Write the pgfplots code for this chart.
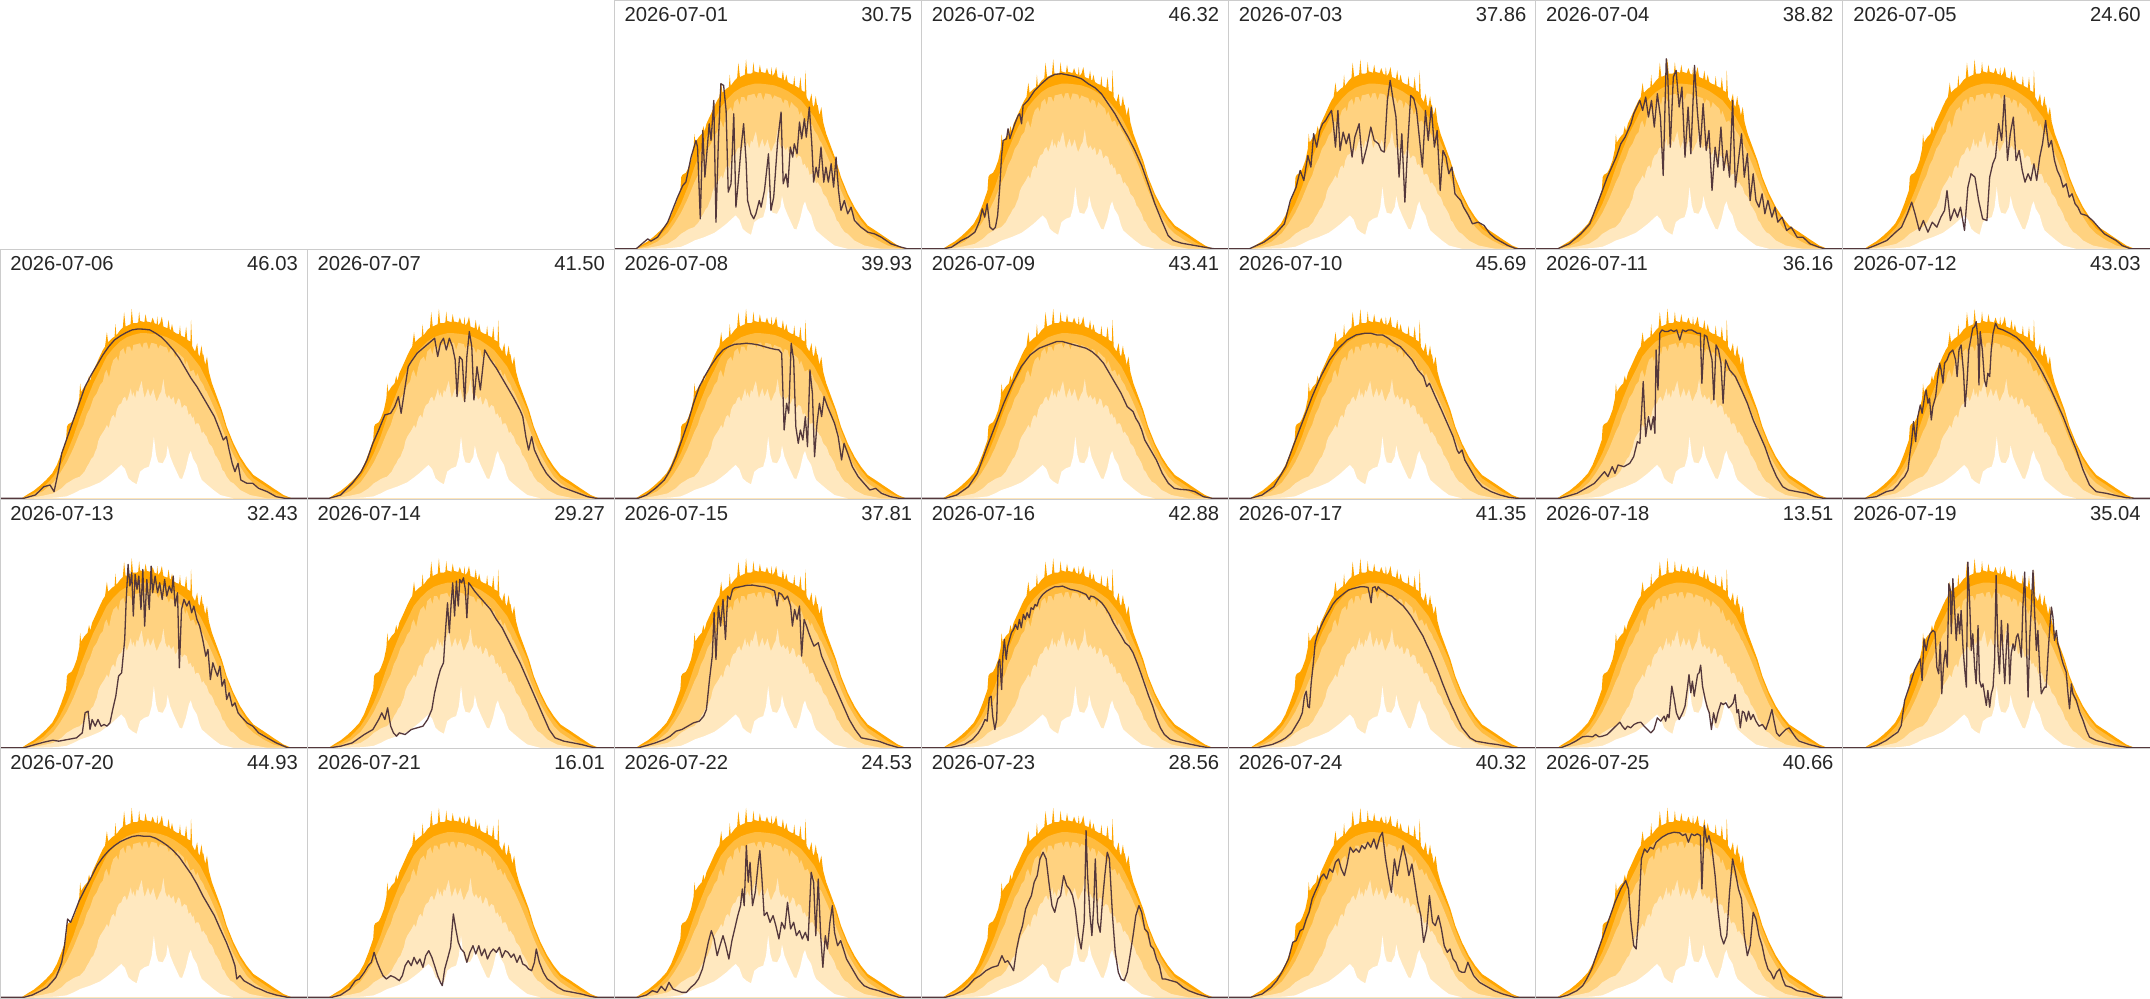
\documentclass[border=0pt]{standalone}
\usepackage{fontspec}
\setmainfont{Liberation Sans}
\usepackage{pgfplots}
\usepackage{pgfplotstable}
\pgfplotsset{compat=1.18}
\definecolor{oD}{HTML}{FFA500}
\definecolor{oC}{HTML}{FFBC40}
\definecolor{oB}{HTML}{FFD280}
\definecolor{oA}{HTML}{FFE8BF}
\definecolor{ln}{HTML}{54383C}
\definecolor{txt}{HTML}{262626}

% ---- shared percentile bands (same in every panel) ----
\pgfplotstableread[row sep=\\]{x y\\
0 0\\7 0\\9 12\\11 23\\13 38\\15 55\\17 75\\18.5 100\\20 135\\21.5 175\\21.8 215\\22.2 222\\23.3 228\\24 240\\25 265\\25.8 300\\26.1 345\\26.4 318\\26.6 322\\27.5 335\\28.5 345\\29 368\\29.4 352\\30 375\\31.5 405\\32.6 428\\33.5 445\\34.2 455\\34.8 498\\35.2 468\\35.4 470\\36.5 480\\37.3 485\\37.6 522\\37.9 487\\38 490\\39.2 505\\40 512\\40.4 558\\40.9 515\\42 520\\42.5 522\\42.9 568\\43.3 525\\44.5 525\\45 528\\45.3 560\\45.6 532\\47 528\\47.4 552\\47.8 530\\48 530\\49.2 527\\49.7 542\\50.3 525\\51 522\\51.2 545\\51.5 518\\52.2 527\\52.7 545\\53.2 515\\54.5 510\\54.9 535\\55.3 506\\55.6 505\\56 522\\56.5 500\\57.5 494\\58.3 492\\58.6 518\\58.9 488\\59 488\\60.2 482\\60.6 515\\61 475\\62 470\\62.2 535\\62.6 455\\63.5 440\\64.2 465\\64.6 432\\65 425\\65.6 458\\66 430\\66.2 432\\66.8 400\\67.4 425\\68 380\\69 345\\70.6 305\\72.2 265\\73.8 215\\76 165\\78.2 125\\80.3 95\\82.5 70\\85.8 50\\89 30\\92.3 10\\95 0\\100 0\\}\bfour
\pgfplotstableread[row sep=\\]{x y\\
0 0\\7.1 0\\10.9 15\\14.1 33\\17.4 65\\19.5 95\\21.7 135\\23.9 185\\26.1 245\\28.2 295\\30.4 345\\32.6 385\\34.7 425\\36.9 450\\39.1 470\\41.3 483\\43.4 490\\45.6 495\\47.8 495\\49.9 493\\52.1 490\\54.3 483\\56.5 473\\58.6 460\\60.8 445\\63.0 420\\65.1 395\\67.3 355\\69.5 310\\71.7 265\\73.8 205\\76.0 155\\78.2 115\\80.3 85\\82.5 60\\85.8 40\\89.0 20\\92.3 5\\95 0\\100 0\\}\bthree
\pgfplotstableread[row sep=\\]{x y\\
0 0\\7.1 0\\10.9 8\\14.1 22\\17.4 48\\19.5 75\\21.7 108\\23.9 150\\26.1 200\\27.2 220\\28.2 250\\29.3 270\\30.4 300\\31.5 315\\32.6 340\\33.5 350\\34.1 375\\34.7 385\\35.5 362\\36.2 395\\36.9 415\\38 425\\38.5 410\\39.1 440\\40.2 450\\40.8 430\\41.3 455\\42.3 455\\43 440\\43.4 460\\44.5 462\\45.6 465\\46.3 450\\46.8 466\\47.8 467\\48.5 445\\49.2 466\\49.9 465\\51 462\\51.5 448\\52.1 460\\53.2 455\\54.3 452\\55 435\\55.5 448\\56.5 443\\57 420\\57.6 440\\58.6 430\\59.8 420\\60.3 400\\60.8 413\\62 380\\63.0 385\\63.8 365\\64.3 375\\65.1 355\\66.2 340\\66.8 325\\67.3 320\\68.3 300\\69.5 275\\70.4 255\\71.7 225\\72.5 205\\73.8 175\\75 150\\76.0 130\\78.2 95\\80.3 65\\82.5 45\\85.8 25\\89.0 10\\92.3 2\\95 0\\100 0\\}\btwo
\pgfplotstableread[row sep=\\]{x y\\
0 0\\8 0\\10.9 3\\14 8\\17.4 15\\20 30\\21.7 45\\23 52\\24 58\\25 62\\26 65\\27 75\\27.5 80\\28.3 95\\29 105\\29.7 118\\30.4 125\\31 140\\31.5 150\\32 172\\32.6 185\\33.3 195\\34 205\\34.8 220\\35.4 210\\35.8 228\\36.4 245\\37 250\\37.5 240\\38 265\\38.7 280\\39.5 285\\40.1 300\\40.7 305\\41.3 290\\42 310\\42.6 330\\43 305\\43.4 318\\44 300\\44.5 325\\45 318\\45.5 335\\46.1 352\\46.7 318\\47.1 300\\47.5 312\\48.2 330\\48.9 305\\49.4 315\\49.9 328\\50.5 305\\51 290\\51.5 300\\52 312\\52.5 320\\53.2 358\\53.8 315\\54.4 300\\55 310\\55.7 295\\56.5 305\\57 280\\57.5 285\\58 300\\58.6 295\\59.2 270\\60 280\\60.8 275\\61.4 250\\62 255\\62.6 240\\63 245\\63.6 220\\64 225\\64.6 225\\65.1 215\\65.7 195\\66.2 200\\66.8 190\\67.3 185\\68 165\\68.5 160\\69 155\\69.5 145\\70 130\\70.5 125\\71.1 115\\71.7 105\\72.4 85\\73 80\\73.8 65\\75 50\\76 45\\78.2 25\\81.4 10\\86.9 0\\100 0\\}\bone
\pgfplotstableread[row sep=\\]{x y\\
0 0\\10 0\\18 2\\21.7 6\\24 15\\26.1 25\\29.3 35\\32.6 48\\34.7 62\\36.5 75\\38.5 92\\39.5 100\\40.7 88\\41.8 60\\43 50\\44.5 42\\45.6 80\\47 90\\48.5 95\\49.4 125\\50.1 185\\50.8 130\\51.5 108\\53 105\\54.1 125\\54.6 158\\55.4 125\\56.5 100\\57.5 80\\58.5 60\\59.3 58\\60.5 90\\61.5 130\\62.1 142\\62.8 120\\64.1 100\\65 70\\65.7 55\\67.3 42\\69.5 25\\71.7 10\\76 0\\100 0\\}\bzero

% ---- actual output, one table per day ----
\pgfplotstableread[row sep=\\]{x y\\
0 0\\7.1 0\\10.9 30\\11.9 23\\14.1 35\\17.4 80\\20.6 155\\22.3 190\\23.3 200\\25.0 275\\26.6 325\\27.1 305\\28.0 90\\28.8 355\\29.5 215\\30.9 375\\31.5 325\\32.4 445\\33.1 80\\33.9 325\\34.7 495\\35.6 490\\36.4 415\\37.1 170\\38.0 195\\38.9 405\\39.6 125\\40.4 205\\41.3 305\\42.1 375\\42.9 265\\43.4 145\\44.5 105\\45.4 90\\46.1 105\\47.2 145\\47.8 125\\48.9 175\\50.2 285\\51.0 115\\51.9 155\\53.2 325\\54.3 410\\55.0 195\\55.9 225\\56.5 185\\57.3 305\\58.1 275\\58.6 315\\59.5 285\\60.3 380\\61.0 330\\61.9 390\\62.5 335\\63.5 425\\64.3 315\\64.9 200\\65.7 245\\66.4 215\\67.3 305\\68.2 200\\68.9 245\\69.7 200\\70.6 255\\71.4 185\\72.2 275\\73.0 175\\73.8 115\\74.9 145\\76.0 105\\77.1 125\\78.2 85\\80.3 65\\82.5 50\\84.7 45\\86.9 35\\90.1 15\\93.4 5\\95.5 0\\100 0\\}\dayA
\pgfplotstableread[row sep=\\]{x y\\
0 0\\7.1 0\\9.8 5\\13.0 25\\15.2 35\\17.4 50\\19.0 85\\19.8 120\\20.6 95\\21.4 135\\22.3 65\\23.3 57\\24.1 65\\24.8 100\\25.5 185\\26.1 280\\26.6 325\\27.7 330\\28.2 360\\28.8 330\\29.3 345\\30.4 375\\31.5 400\\32.0 405\\32.6 375\\33.1 430\\34.7 445\\36.9 475\\39.1 495\\41.3 513\\43.4 523\\45.6 525\\47.8 521\\49.9 517\\52.1 510\\54.3 495\\56.5 483\\58.6 465\\60.8 435\\63.0 405\\65.1 370\\67.3 335\\69.5 295\\71.7 250\\73.8 195\\76.0 135\\78.2 85\\80.3 40\\82.0 25\\84.7 17\\89.0 10\\93.4 3\\95.5 0\\100 0\\}\dayB
\pgfplotstableread[row sep=\\]{x y\\
0 0\\6.7 0\\11.5 20\\15.3 45\\18.2 75\\20.1 145\\22.0 185\\23.3 235\\24.5 205\\25.8 280\\26.8 245\\27.7 345\\28.7 305\\29.7 355\\30.6 375\\31.6 385\\32.5 400\\33.5 415\\34.1 375\\34.8 305\\35.6 415\\36.3 295\\37.3 350\\38.3 315\\39.2 345\\40.2 275\\41.1 335\\42.5 375\\43.6 255\\45.0 305\\46.3 365\\47.4 325\\48.8 315\\49.7 295\\50.7 290\\51.7 445\\52.6 505\\53.6 445\\54.5 395\\55.5 215\\56.4 345\\57.4 140\\58.4 325\\59.3 460\\60.3 450\\61.2 415\\62.2 325\\63.1 245\\64.1 415\\65.0 325\\66.0 425\\67.0 305\\67.9 355\\68.9 175\\69.8 295\\70.8 275\\71.7 225\\72.7 245\\73.7 165\\74.6 155\\75.6 145\\76.5 125\\78.1 100\\79.4 75\\81.3 80\\83.2 70\\85.1 45\\87.0 30\\89.0 20\\90.9 10\\93.7 0\\100 0\\}\dayC
\pgfplotstableread[row sep=\\]{x y\\
0 0\\7.1 0\\10.9 15\\14.7 45\\17.6 75\\20.5 145\\23.3 215\\26.2 275\\27.7 315\\29.1 335\\31.0 375\\31.9 405\\32.9 425\\33.9 445\\34.8 415\\35.8 455\\36.7 395\\37.7 445\\38.6 365\\39.6 465\\40.6 395\\41.5 220\\42.5 570\\43.0 515\\43.8 305\\44.8 515\\45.7 535\\46.7 425\\47.6 485\\48.6 275\\49.6 425\\50.5 285\\51.7 550\\52.6 415\\53.6 305\\54.5 435\\55.5 295\\56.4 355\\57.4 175\\58.4 305\\59.3 245\\60.3 365\\61.2 235\\62.2 295\\63.1 215\\64.1 445\\65.0 185\\66.0 265\\67.0 345\\67.9 215\\68.9 285\\69.8 145\\70.8 225\\71.7 145\\72.7 125\\73.7 165\\74.6 105\\75.6 145\\76.9 95\\77.9 125\\78.8 80\\80.2 95\\81.7 55\\83.2 65\\85.1 35\\87.0 35\\89.3 15\\92.2 5\\94.1 0\\100 0\\}\dayD
\pgfplotstableread[row sep=\\]{x y\\
0 0\\7.7 0\\10.5 10\\14.3 25\\17.2 50\\19.1 65\\21.0 105\\22.4 140\\23.5 105\\24.9 55\\26.2 85\\27.7 50\\29.1 80\\30.6 65\\31.9 95\\33.1 115\\33.9 175\\35.0 85\\36.3 120\\37.3 95\\38.3 125\\39.6 55\\40.7 185\\41.7 225\\43.0 215\\44.2 145\\45.5 90\\46.9 85\\47.8 215\\48.8 255\\49.7 275\\50.7 375\\51.7 325\\52.6 460\\53.6 265\\54.5 345\\55.5 395\\56.4 265\\57.4 295\\58.4 235\\59.3 200\\60.3 225\\61.2 205\\62.2 255\\63.1 205\\64.1 275\\65.0 315\\66.0 385\\67.0 305\\67.9 325\\68.9 265\\69.8 235\\70.8 215\\71.7 185\\72.7 195\\73.7 155\\74.6 165\\75.6 135\\76.5 125\\77.5 105\\79.4 100\\81.3 85\\83.2 65\\85.1 45\\87.0 35\\89.0 25\\90.9 10\\93.7 0\\100 0\\}\dayE
\pgfplotstableread[row sep=\\]{x y\\
0 0\\7.7 0\\11.5 10\\14.3 35\\16.3 40\\17.6 20\\19.1 85\\20.1 135\\22.0 185\\23.9 235\\25.8 285\\27.7 335\\29.7 370\\31.6 400\\33.5 430\\35.4 455\\37.3 475\\39.2 487\\41.1 497\\43.0 505\\45.0 508\\46.9 507\\48.8 505\\50.7 495\\52.6 483\\54.5 465\\56.4 445\\58.4 420\\60.3 390\\62.2 360\\64.1 335\\66.0 305\\67.9 275\\69.8 245\\71.7 200\\72.7 175\\73.7 185\\74.6 145\\75.6 105\\76.5 80\\77.5 105\\78.4 55\\80.4 45\\82.3 45\\84.2 30\\87.0 20\\89.9 5\\92.8 0\\100 0\\}\dayF
\pgfplotstableread[row sep=\\]{x y\\
0 0\\7.1 0\\10.9 10\\14.7 45\\17.6 80\\19.5 115\\21.4 165\\23.3 205\\25.3 250\\27.2 255\\28.5 275\\29.7 305\\30.6 255\\31.9 335\\32.9 395\\33.9 410\\35.8 435\\37.7 450\\39.6 465\\41.5 480\\42.5 425\\43.4 465\\44.4 480\\45.3 445\\46.3 480\\47.3 455\\48.2 415\\48.8 305\\49.6 425\\50.5 415\\51.3 290\\52.0 425\\52.8 500\\53.6 455\\54.3 295\\55.3 395\\56.4 325\\57.8 445\\59.7 415\\61.6 390\\63.5 360\\65.4 330\\67.3 300\\69.3 265\\70.2 245\\71.2 185\\72.1 145\\73.1 185\\74.0 145\\76.0 105\\77.9 75\\79.8 55\\82.6 35\\85.5 25\\88.4 15\\91.3 5\\94.1 0\\100 0\\}\dayG
\pgfplotstableread[row sep=\\]{x y\\
0 0\\7.7 0\\10.5 10\\13.4 30\\16.3 55\\18.2 85\\20.1 125\\22.0 175\\23.9 225\\25.8 285\\27.7 335\\29.7 370\\31.6 400\\33.5 425\\35.4 445\\37.3 455\\39.2 462\\41.1 463\\43.0 465\\45.0 463\\46.9 460\\48.8 455\\50.7 450\\52.2 447\\53.6 445\\54.5 435\\55.3 205\\56.1 285\\56.8 255\\57.6 465\\58.4 415\\59.1 215\\59.9 165\\60.6 205\\61.4 175\\62.2 245\\62.9 155\\63.7 385\\64.5 315\\65.2 125\\66.0 225\\66.8 285\\67.5 245\\68.3 305\\69.4 275\\70.8 245\\71.7 225\\72.9 185\\74.0 115\\74.8 165\\76.0 135\\77.5 95\\79.4 65\\81.3 45\\83.2 25\\85.1 30\\87.0 15\\89.9 5\\92.8 0\\100 0\\}\dayH
\pgfplotstableread[row sep=\\]{x y\\
0 0\\7.7 0\\11.5 10\\15.3 35\\18.2 75\\21.0 145\\23.9 215\\26.8 285\\29.7 345\\32.5 395\\35.4 430\\38.3 450\\41.1 460\\44.0 470\\45.9 470\\47.8 465\\49.7 460\\51.7 455\\53.6 450\\55.5 440\\57.4 425\\59.3 405\\61.2 375\\63.1 345\\65.0 315\\67.0 275\\68.9 260\\69.8 240\\70.8 225\\71.7 205\\72.7 175\\74.6 145\\76.5 115\\78.4 75\\80.4 45\\82.3 30\\84.2 27\\87.0 25\\89.0 20\\91.8 5\\94.7 0\\100 0\\}\dayI
\pgfplotstableread[row sep=\\]{x y\\
0 0\\7.1 0\\10.9 10\\14.7 35\\18.6 95\\21.4 165\\24.3 235\\27.2 305\\30.0 365\\32.9 415\\35.8 450\\38.6 475\\41.5 490\\44.4 495\\46.3 495\\48.2 490\\50.1 490\\52.0 480\\54.0 465\\55.9 455\\57.8 435\\59.7 415\\61.6 385\\63.5 365\\64.5 335\\65.4 345\\67.3 305\\69.3 265\\71.2 225\\73.1 185\\74.4 145\\75.0 135\\76.0 145\\76.9 115\\78.8 85\\80.7 55\\82.6 35\\85.5 20\\88.4 10\\91.3 3\\94.1 0\\100 0\\}\dayJ
\pgfplotstableread[row sep=\\]{x y\\
0 0\\7.7 0\\10.5 7\\13.4 15\\16.3 30\\19.1 45\\21.0 65\\22.4 80\\23.5 65\\24.9 95\\25.8 75\\26.8 100\\28.7 95\\30.6 105\\31.9 125\\33.1 170\\33.9 165\\35.0 350\\35.8 185\\36.7 245\\37.5 205\\38.3 245\\38.8 195\\39.2 445\\39.8 325\\40.4 495\\41.1 505\\42.1 500\\43.0 500\\44.0 505\\45.0 500\\45.9 505\\46.9 475\\47.8 505\\48.8 500\\49.7 505\\50.7 505\\51.7 500\\52.6 495\\53.6 495\\54.1 345\\54.9 490\\55.7 485\\56.4 455\\57.4 415\\58.0 295\\58.7 460\\59.5 445\\60.3 405\\61.0 285\\61.8 415\\63.1 385\\65.0 365\\67.0 325\\68.9 285\\70.8 235\\72.7 195\\74.6 155\\76.5 105\\78.4 65\\80.4 35\\82.3 25\\85.1 20\\88.0 15\\90.9 5\\93.7 0\\100 0\\}\dayK
\pgfplotstableread[row sep=\\]{x y\\
0 0\\7.1 0\\10.9 5\\14.1 20\\16.3 25\\17.9 40\\19.0 55\\20.1 65\\21.2 85\\21.7 125\\22.3 165\\23.0 230\\23.7 170\\24.4 245\\25.2 280\\25.8 255\\26.6 305\\27.1 325\\27.7 285\\28.2 300\\28.8 235\\29.3 275\\30.2 305\\30.9 365\\31.5 405\\32.0 385\\32.6 345\\33.1 405\\33.9 415\\34.7 435\\35.8 445\\36.7 415\\37.2 365\\37.8 445\\38.5 460\\39.3 375\\39.8 275\\40.4 345\\41.0 445\\41.8 485\\42.3 510\\42.9 515\\43.4 530\\44.0 475\\44.3 340\\44.7 500\\45.4 445\\46.1 355\\46.7 335\\47.2 375\\47.8 365\\48.3 445\\48.9 495\\49.7 525\\50.5 510\\52.1 505\\54.3 495\\56.5 483\\58.6 465\\60.8 440\\63.0 410\\65.1 375\\67.3 335\\69.5 290\\71.7 245\\73.8 195\\76.0 145\\78.2 85\\80.3 40\\82.5 20\\85.8 15\\89.0 8\\92.3 2\\95.5 0\\100 0\\}\dayL
\pgfplotstableread[row sep=\\]{x y\\
0 0\\7.7 0\\11.5 10\\14.3 17\\17.2 23\\19.1 20\\22.0 25\\24.9 30\\26.8 45\\27.7 105\\28.7 110\\29.3 55\\30.0 85\\31.0 65\\31.9 85\\32.9 65\\33.9 70\\34.8 65\\35.8 75\\36.7 115\\37.7 155\\38.6 215\\39.6 225\\40.6 325\\41.1 445\\41.7 550\\42.3 485\\42.9 525\\43.4 395\\44.0 520\\44.6 475\\45.2 515\\45.9 415\\46.5 535\\47.1 365\\47.8 505\\48.6 415\\49.2 545\\49.7 465\\50.5 515\\51.3 465\\52.0 495\\52.8 445\\53.6 505\\54.3 455\\55.1 485\\55.9 465\\56.4 515\\57.0 425\\57.8 465\\58.4 240\\59.1 415\\59.9 445\\60.8 425\\61.6 440\\62.4 405\\63.1 425\\64.1 385\\65.0 365\\66.0 325\\67.0 275\\67.7 295\\68.5 205\\69.3 255\\70.0 235\\70.8 215\\71.6 245\\72.3 185\\73.1 205\\73.8 145\\74.6 165\\75.6 125\\76.5 135\\77.5 105\\78.4 95\\80.4 75\\82.3 65\\84.2 45\\87.0 30\\89.9 15\\93.7 0\\100 0\\}\dayM
\pgfplotstableread[row sep=\\]{x y\\
0 0\\7.1 0\\10.9 5\\14.7 15\\18.6 40\\21.4 55\\23.3 85\\24.3 105\\25.3 85\\26.2 120\\27.2 65\\28.1 45\\29.1 35\\30.0 45\\31.9 40\\33.9 55\\35.8 60\\37.7 65\\39.2 85\\40.6 115\\41.5 165\\42.5 205\\43.4 235\\44.4 255\\45.0 345\\45.7 435\\46.3 345\\46.9 435\\47.4 495\\48.0 395\\48.6 500\\49.2 425\\49.7 505\\50.3 495\\50.9 510\\51.5 475\\52.0 390\\52.6 495\\53.4 485\\54.5 470\\55.9 455\\57.8 435\\59.7 415\\61.6 385\\63.5 360\\65.4 325\\67.3 290\\69.3 255\\71.2 215\\73.1 175\\75.0 135\\76.9 95\\78.8 55\\80.7 30\\83.6 20\\86.5 15\\89.3 10\\92.2 3\\94.1 0\\100 0\\}\dayN
\pgfplotstableread[row sep=\\]{x y\\
0 0\\7.7 0\\10.5 7\\13.4 15\\16.3 25\\18.2 35\\20.1 50\\22.0 55\\23.9 65\\25.8 75\\27.7 80\\29.1 95\\30.0 115\\31.0 205\\31.9 275\\32.5 405\\33.1 265\\33.9 425\\34.6 365\\35.4 445\\36.2 325\\36.9 455\\37.7 445\\38.5 475\\39.2 480\\41.1 483\\43.0 487\\45.0 488\\46.9 485\\48.8 483\\50.7 477\\52.2 470\\53.0 425\\53.6 465\\54.5 460\\55.5 445\\56.4 455\\57.4 425\\58.0 365\\58.7 415\\59.5 385\\60.3 425\\61.0 275\\61.8 385\\62.6 365\\63.3 345\\64.1 325\\65.0 305\\66.4 315\\67.5 275\\68.9 245\\70.8 205\\72.7 165\\74.6 125\\76.5 85\\78.4 55\\80.4 30\\83.2 25\\86.1 20\\89.0 10\\92.8 0\\100 0\\}\dayO
\pgfplotstableread[row sep=\\]{x y\\
0 0\\8.9 0\\11.5 5\\14.0 10\\16.6 25\\18.5 45\\19.8 65\\20.7 85\\21.4 80\\22.1 150\\22.7 155\\23.2 95\\23.9 55\\24.5 85\\25.0 255\\25.5 265\\26.1 175\\26.5 275\\27.0 325\\27.6 265\\28.1 305\\28.7 325\\29.3 345\\30.0 355\\30.6 370\\31.3 355\\31.9 385\\32.5 360\\33.2 400\\33.8 385\\34.4 405\\35.1 390\\35.7 420\\36.4 415\\37.0 430\\37.6 425\\38.3 445\\39.5 460\\40.8 470\\42.1 477\\43.4 483\\44.6 483\\45.9 485\\47.2 480\\48.5 475\\49.7 473\\51.0 470\\52.3 465\\53.6 460\\54.6 445\\55.1 455\\56.1 453\\57.4 445\\58.7 435\\59.9 420\\61.2 400\\62.5 375\\63.8 355\\65.1 335\\66.3 315\\67.6 305\\68.9 285\\70.2 255\\71.4 225\\72.7 190\\74.0 155\\75.3 125\\76.5 90\\77.8 60\\79.1 40\\81.0 25\\82.9 20\\85.5 15\\88.0 10\\90.6 5\\93.8 0\\100 0\\}\dayP
\pgfplotstableread[row sep=\\]{x y\\
0 0\\9.1 0\\11.6 5\\14.2 10\\16.7 20\\18.6 30\\20.5 45\\21.8 65\\23.1 85\\24.0 105\\24.7 155\\25.3 170\\25.8 125\\26.3 120\\26.9 195\\27.6 255\\28.2 315\\28.8 335\\30.1 365\\31.4 390\\32.7 410\\33.9 430\\35.2 445\\36.5 455\\37.8 465\\39.0 473\\40.3 477\\41.6 480\\42.9 483\\44.1 483\\45.4 481\\46.0 455\\46.4 435\\46.9 480\\47.7 483\\48.2 470\\48.7 483\\49.5 475\\50.5 470\\51.8 460\\53.1 455\\54.3 445\\55.6 435\\56.9 425\\58.2 410\\59.4 395\\60.7 375\\62.0 355\\63.3 335\\64.5 310\\65.8 285\\67.1 255\\68.4 225\\69.6 195\\70.9 165\\72.2 135\\73.5 110\\74.7 85\\76.0 60\\77.3 45\\78.6 30\\80.5 20\\82.4 17\\84.9 13\\87.5 10\\90.1 5\\93.2 0\\100 0\\}\dayQ
\pgfplotstableread[row sep=\\]{x y\\
0 0\\8.1 0\\10.9 10\\13.0 20\\15.2 33\\16.8 35\\18.5 33\\19.5 40\\20.6 33\\21.7 35\\23.3 40\\24.4 50\\25.5 60\\26.6 70\\27.4 77\\28.2 65\\29.1 55\\29.9 65\\30.9 60\\32.0 70\\33.1 75\\34.2 77\\35.3 65\\36.4 55\\37.5 45\\38.5 55\\39.6 90\\40.7 80\\41.8 95\\42.3 80\\42.9 100\\43.4 90\\44.3 185\\45.1 145\\45.8 105\\46.7 85\\47.8 105\\48.6 125\\49.4 180\\49.9 220\\50.5 165\\51.0 200\\51.6 155\\52.1 185\\52.7 220\\53.2 225\\53.7 248\\54.3 185\\55.2 145\\55.9 120\\56.5 105\\57.2 55\\57.9 105\\58.6 75\\59.3 105\\60.3 135\\61.0 130\\61.9 135\\62.8 120\\63.5 125\\64.3 135\\64.9 160\\65.5 105\\66.0 115\\66.6 60\\67.3 110\\67.9 105\\68.6 80\\69.3 110\\70.0 85\\70.8 100\\71.7 80\\72.7 65\\73.8 70\\74.9 55\\76.0 85\\76.9 115\\77.6 80\\78.4 45\\79.3 35\\80.3 45\\81.4 55\\82.5 60\\83.6 45\\84.7 30\\85.8 20\\87.4 15\\89.0 10\\91.2 5\\93.4 0\\100 0\\}\dayR
\pgfplotstableread[row sep=\\]{x y\\
0 0\\8.1 0\\10.9 7\\14.1 22\\16.3 37\\17.9 47\\19.0 67\\20.1 142\\21.2 172\\22.3 202\\23.3 232\\24.4 252\\25.2 267\\25.8 202\\26.4 327\\27.1 292\\27.7 322\\28.4 342\\29.3 352\\30.0 347\\30.6 242\\31.2 222\\31.7 317\\32.2 162\\32.8 252\\33.4 292\\34.0 242\\34.5 492\\35.0 472\\35.3 342\\35.8 507\\36.4 412\\36.9 322\\37.5 402\\38.0 342\\38.5 412\\39.1 302\\39.6 242\\40.2 182\\40.7 557\\41.3 432\\41.8 292\\42.3 342\\42.9 242\\43.4 192\\44.0 367\\44.5 202\\45.1 182\\45.6 192\\46.1 162\\46.7 127\\47.2 172\\47.8 122\\48.3 162\\48.9 182\\49.4 262\\49.9 517\\50.5 292\\51.0 222\\51.6 382\\52.1 292\\52.7 192\\53.2 292\\53.7 372\\54.3 192\\54.8 282\\55.4 312\\55.9 292\\56.5 332\\57.0 342\\57.5 317\\58.1 272\\58.6 422\\59.2 527\\59.7 332\\60.3 152\\60.8 322\\61.3 412\\61.9 532\\62.4 412\\63.0 292\\63.5 352\\64.1 232\\64.6 162\\65.1 172\\65.7 182\\66.2 182\\66.8 282\\67.3 352\\67.9 422\\68.4 392\\68.9 322\\69.5 352\\70.0 312\\70.6 292\\71.1 272\\71.7 252\\72.7 227\\73.3 162\\73.8 117\\74.4 192\\74.9 162\\76.0 142\\77.1 107\\78.2 82\\79.3 52\\80.3 32\\82.5 22\\85.8 14\\89.0 7\\92.3 2\\95.0 0\\100 0\\}\dayS
\pgfplotstableread[row sep=\\]{x y\\
0 0\\7.7 0\\10.5 7\\13.4 20\\15.3 30\\16.8 45\\18.2 60\\19.1 80\\20.1 105\\21.0 155\\22.0 235\\23.0 225\\23.9 245\\25.8 290\\27.7 325\\29.7 360\\31.6 395\\33.5 420\\35.4 440\\37.3 455\\39.2 467\\41.1 475\\43.0 482\\45.0 485\\46.9 483\\48.8 483\\50.7 477\\52.6 467\\54.5 455\\56.4 440\\58.4 420\\60.3 395\\62.2 370\\64.1 340\\66.0 305\\67.9 275\\69.8 245\\71.7 205\\73.7 165\\75.6 120\\76.5 95\\77.1 55\\78.1 65\\79.4 50\\81.3 40\\83.2 30\\85.1 23\\87.0 15\\89.9 7\\93.7 0\\100 0\\}\dayT
\pgfplotstableread[row sep=\\]{x y\\
0 0\\8.0 0\\10.9 7\\13.8 25\\15.7 50\\17.0 55\\18.6 75\\19.9 95\\20.9 105\\21.8 135\\22.8 105\\23.7 85\\24.7 65\\25.8 55\\27.2 65\\28.5 60\\30.0 50\\31.0 65\\31.9 95\\32.9 110\\33.9 95\\34.8 120\\35.8 100\\36.7 115\\37.7 90\\38.6 125\\39.6 140\\40.6 120\\41.5 95\\42.5 65\\43.4 45\\44.0 35\\44.8 85\\45.7 115\\46.7 150\\47.6 250\\48.4 205\\49.2 165\\50.1 145\\51.1 135\\52.0 105\\53.0 135\\54.0 155\\54.9 130\\55.9 155\\56.8 125\\57.8 145\\58.7 115\\59.7 135\\60.6 145\\61.6 135\\62.6 150\\63.5 120\\64.5 140\\65.4 135\\66.4 120\\67.3 130\\68.3 105\\69.3 125\\70.2 100\\71.2 95\\72.1 85\\73.1 80\\74.0 105\\74.6 145\\75.6 105\\76.9 75\\78.2 55\\79.8 45\\81.7 30\\83.6 20\\86.5 15\\89.3 10\\92.2 3\\94.1 0\\100 0\\}\dayU
\pgfplotstableread[row sep=\\]{x y\\
0 0\\7.7 0\\10.5 7\\12.4 20\\14.0 15\\15.3 33\\16.6 20\\17.8 45\\19.1 25\\20.5 20\\22.0 15\\23.5 15\\24.9 30\\26.2 40\\27.4 55\\28.7 85\\29.7 125\\30.6 165\\31.6 200\\32.5 175\\33.5 125\\34.4 155\\35.4 185\\36.3 155\\37.3 115\\38.3 170\\39.2 205\\40.2 245\\41.1 275\\41.7 325\\42.3 275\\43.0 455\\43.6 345\\44.2 405\\45.0 275\\45.9 315\\46.9 405\\47.4 440\\48.0 365\\48.8 245\\49.7 255\\50.7 225\\51.7 245\\52.6 215\\53.6 175\\54.5 225\\55.5 205\\56.4 285\\57.4 205\\58.4 225\\59.3 185\\60.3 200\\61.2 175\\62.2 195\\63.1 170\\64.1 375\\64.9 345\\65.6 185\\66.4 355\\67.2 185\\67.9 90\\68.7 185\\69.4 145\\70.2 225\\71.0 275\\71.7 195\\72.7 155\\73.7 170\\74.6 145\\75.6 115\\77.5 85\\79.4 55\\81.3 35\\83.2 27\\86.1 20\\89.0 10\\92.8 0\\100 0\\}\dayV
\pgfplotstableread[row sep=\\]{x y\\
0 0\\7.7 0\\10.5 7\\13.4 20\\15.3 35\\17.2 55\\19.1 65\\21.0 80\\23.0 90\\24.9 95\\26.2 125\\27.2 105\\28.1 110\\29.1 95\\30.0 80\\31.0 145\\31.9 185\\32.9 215\\33.9 265\\34.8 285\\35.8 305\\36.7 345\\37.7 365\\38.6 415\\39.6 435\\40.6 415\\41.5 345\\42.5 275\\43.4 255\\44.4 295\\45.3 305\\46.3 365\\47.3 335\\48.2 325\\49.2 305\\50.1 265\\51.1 185\\52.0 145\\53.0 225\\53.6 500\\54.1 365\\54.9 245\\55.5 185\\56.1 275\\56.6 415\\57.4 225\\58.2 195\\58.9 285\\59.7 365\\60.5 435\\61.2 415\\62.2 245\\63.1 135\\64.1 75\\65.0 55\\66.0 50\\67.0 75\\67.9 125\\68.9 185\\69.8 245\\70.8 275\\71.7 255\\72.7 205\\73.7 195\\74.6 155\\75.6 145\\76.5 115\\77.5 95\\78.4 55\\79.4 55\\81.3 50\\83.2 45\\85.1 30\\87.0 20\\89.9 10\\93.7 0\\100 0\\}\dayW
\pgfplotstableread[row sep=\\]{x y\\
0 0\\7.1 0\\10.9 10\\13.8 30\\15.7 50\\17.6 80\\19.5 115\\20.9 165\\22.0 170\\23.3 200\\24.3 205\\25.3 235\\26.2 255\\27.2 295\\28.1 315\\29.1 335\\30.0 360\\31.0 370\\31.9 355\\32.9 385\\33.9 375\\34.8 405\\35.8 415\\36.7 385\\37.7 365\\38.6 400\\39.6 450\\40.6 435\\41.5 445\\42.5 435\\43.4 455\\44.4 445\\45.3 465\\46.3 450\\47.3 475\\48.2 445\\49.2 480\\50.1 495\\51.1 415\\52.0 365\\53.0 315\\54.0 415\\54.9 365\\55.9 415\\56.8 455\\57.8 415\\58.7 365\\59.7 400\\60.6 345\\61.6 285\\62.6 245\\63.5 165\\64.5 205\\65.4 305\\66.4 225\\67.3 215\\68.3 245\\69.3 205\\70.2 155\\71.2 135\\72.1 145\\73.1 115\\74.0 105\\75.0 80\\76.0 75\\76.9 75\\77.9 105\\78.8 85\\79.8 65\\81.7 45\\83.6 35\\86.5 20\\89.3 10\\93.2 0\\100 0\\}\dayX
\pgfplotstableread[row sep=\\]{x y\\
0 0\\7.7 0\\10.5 7\\13.4 20\\15.3 35\\16.6 55\\18.2 85\\20.1 135\\22.0 185\\23.9 235\\25.8 285\\27.7 325\\29.3 350\\30.2 325\\31.0 225\\31.9 155\\32.7 145\\33.5 245\\34.4 415\\35.4 445\\36.3 435\\37.3 450\\38.3 445\\39.2 465\\41.1 480\\43.0 490\\45.0 495\\46.9 493\\47.8 485\\48.8 490\\49.7 465\\50.7 490\\51.7 485\\52.6 490\\53.6 485\\54.1 325\\54.9 515\\55.7 465\\56.4 485\\57.4 445\\58.4 365\\59.3 265\\60.3 185\\61.2 160\\62.2 185\\63.1 315\\64.1 415\\65.0 375\\66.0 325\\67.0 295\\67.9 185\\68.9 125\\69.8 155\\70.8 255\\71.7 235\\72.7 185\\73.7 155\\74.6 115\\75.6 85\\76.5 75\\77.5 55\\78.4 75\\79.4 85\\80.4 55\\81.3 35\\83.2 30\\85.1 20\\88.0 15\\90.9 5\\93.7 0\\100 0\\}\dayY

\newcommand\panel[5]{%
\begin{axis}[at={(#1*153.571pt,-#2*124.75pt)},anchor=north west,
  width=153.571pt,height=124.75pt,scale only axis,
  xmin=0,xmax=100,ymin=-2,ymax=746,
  axis on top,axis line style={draw=black!20,line width=0.5pt},
  ticks=none,clip mode=individual]
\addplot[draw=none,fill=oD] table {\bfour} \closedcycle;
\addplot[draw=none,fill=oC] table {\bthree} \closedcycle;
\addplot[draw=none,fill=oB] table {\btwo} \closedcycle;
\addplot[draw=none,fill=oA] table {\bone} \closedcycle;
\addplot[draw=none,fill=white] table {\bzero} \closedcycle;
\addplot[color=ln,line width=0.65pt,line join=round] table {#5};
\node[anchor=base west,inner sep=0pt,text=txt,font=\fontsize{10.1}{12}\selectfont]
  at ([xshift=5pt,yshift=-10.6pt]rel axis cs:0,1) {#3};
\node[anchor=base east,inner sep=0pt,text=txt,font=\fontsize{10.1}{12}\selectfont]
  at ([xshift=-4.5pt,yshift=-10.6pt]rel axis cs:1,1) {#4};
\end{axis}}

\begin{document}
\begin{tikzpicture}
\useasboundingbox (0,0) rectangle (1075pt,-499pt);
\panel{2}{0}{2026-07-01}{30.75}{\dayA}
\panel{3}{0}{2026-07-02}{46.32}{\dayB}
\panel{4}{0}{2026-07-03}{37.86}{\dayC}
\panel{5}{0}{2026-07-04}{38.82}{\dayD}
\panel{6}{0}{2026-07-05}{24.60}{\dayE}
\panel{0}{1}{2026-07-06}{46.03}{\dayF}
\panel{1}{1}{2026-07-07}{41.50}{\dayG}
\panel{2}{1}{2026-07-08}{39.93}{\dayH}
\panel{3}{1}{2026-07-09}{43.41}{\dayI}
\panel{4}{1}{2026-07-10}{45.69}{\dayJ}
\panel{5}{1}{2026-07-11}{36.16}{\dayK}
\panel{6}{1}{2026-07-12}{43.03}{\dayL}
\panel{0}{2}{2026-07-13}{32.43}{\dayM}
\panel{1}{2}{2026-07-14}{29.27}{\dayN}
\panel{2}{2}{2026-07-15}{37.81}{\dayO}
\panel{3}{2}{2026-07-16}{42.88}{\dayP}
\panel{4}{2}{2026-07-17}{41.35}{\dayQ}
\panel{5}{2}{2026-07-18}{13.51}{\dayR}
\panel{6}{2}{2026-07-19}{35.04}{\dayS}
\panel{0}{3}{2026-07-20}{44.93}{\dayT}
\panel{1}{3}{2026-07-21}{16.01}{\dayU}
\panel{2}{3}{2026-07-22}{24.53}{\dayV}
\panel{3}{3}{2026-07-23}{28.56}{\dayW}
\panel{4}{3}{2026-07-24}{40.32}{\dayX}
\panel{5}{3}{2026-07-25}{40.66}{\dayY}
\end{tikzpicture}
\end{document}
